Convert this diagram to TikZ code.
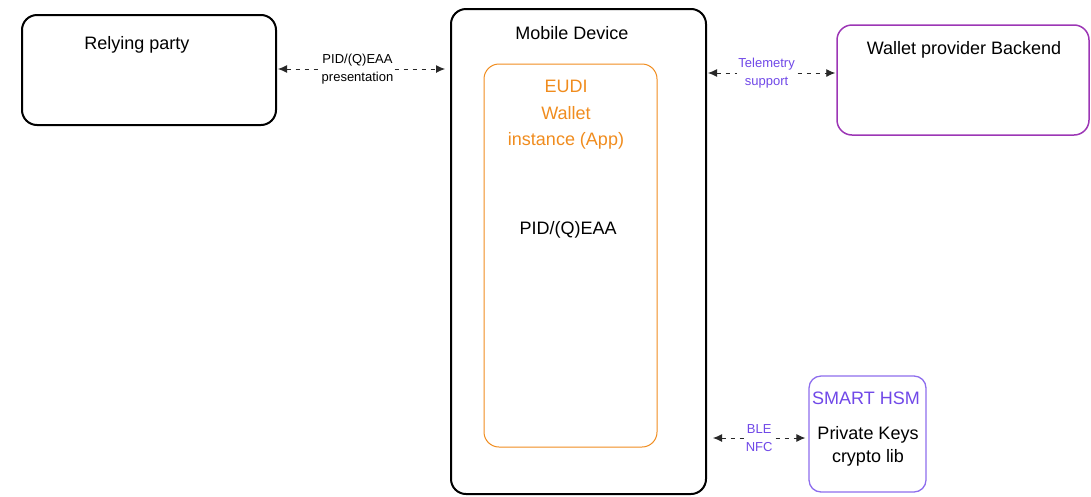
\documentclass[tikz,border=0pt]{standalone}
\usepackage{fontspec}
\setmainfont{Liberation Sans}
\usetikzlibrary{arrows.meta}
\definecolor{exorange}{RGB}{240,140,30}
\definecolor{expurple}{RGB}{156,54,181}
\definecolor{exviolet}{RGB}{112,72,232}
\definecolor{exline}{RGB}{40,40,40}
\begin{document}
\begin{tikzpicture}[x=1pt,y=-1pt,
  blackbox/.style={draw=black,line width=2pt,rounded corners=15pt,inner sep=0pt},
  orangebox/.style={draw=exorange,line width=1pt,rounded corners=15pt,inner sep=0pt},
  purplebox/.style={draw=expurple,line width=1.5pt,rounded corners=15pt,inner sep=0pt},
  violetbox/.style={draw=exviolet!80,line width=1.3pt,rounded corners=12pt,inner sep=0pt},
  title/.style={font=\fontsize{18}{21}\selectfont,inner sep=0pt,align=center},
  lbl/.style={font=\fontsize{13}{18}\selectfont,fill=white,inner sep=1pt,align=center},
  conn/.style={draw=exline,line width=0.9pt,dash pattern=on 4.5pt off 4.5pt,
    {Latex[length=9pt,width=8pt]}-{Latex[length=9pt,width=8pt]}}
]
\useasboundingbox (0,0) rectangle (1091,496);

% boxes
\node[blackbox,minimum width=254pt,minimum height=110pt] (rp) at (149,70) {};
\node[blackbox,minimum width=255pt,minimum height=485pt] (md) at (578.5,251.5) {};
\node[orangebox,minimum width=173pt,minimum height=383pt] (app) at (570.5,255.5) {};
\node[purplebox,minimum width=252pt,minimum height=110pt] (wp) at (963,80) {};
\node[violetbox,minimum width=117pt,minimum height=116pt] (hsm) at (867.5,434) {};

% texts
\node[title] (rpt) at (137,45) {Relying party};
\node[title] (mdt) at (572,33) {Mobile Device};
\node[title,text=exorange,font=\fontsize{18}{26.5}\selectfont] (appt) at (566,115) {EUDI\\Wallet\\instance (App)};
\node[title] (pid) at (568,230) {PID/(Q)EAA};
\node[title] (wpt) at (964,50) {Wallet provider Backend};
\node[title,text=exviolet] (hsmt) at (866,398) {SMART HSM};
\node[title,font=\fontsize{18}{23}\selectfont] (pk) at (868,446) {Private Keys\\crypto lib};

% connectors
\draw[conn] ([xshift=1pt]rp.east |- 0,69) -- ([xshift=-5pt]md.west |- 0,69)
  node[lbl,midway,xshift=-4pt] (l1) {PID/(Q)EAA\\presentation};
\draw[conn] ([xshift=1pt]md.east |- 0,73) -- ([xshift=-1pt]wp.west |- 0,73)
  node[lbl,midway,xshift=-5pt,text=exviolet] (l2) {Telemetry\\support};
\draw[conn] ([xshift=6pt]md.east |- 0,438) -- ([xshift=-3pt]hsm.west |- 0,438)
  node[lbl,midway,text=exviolet] (l3) {BLE\\NFC};
\end{tikzpicture}
\end{document}
